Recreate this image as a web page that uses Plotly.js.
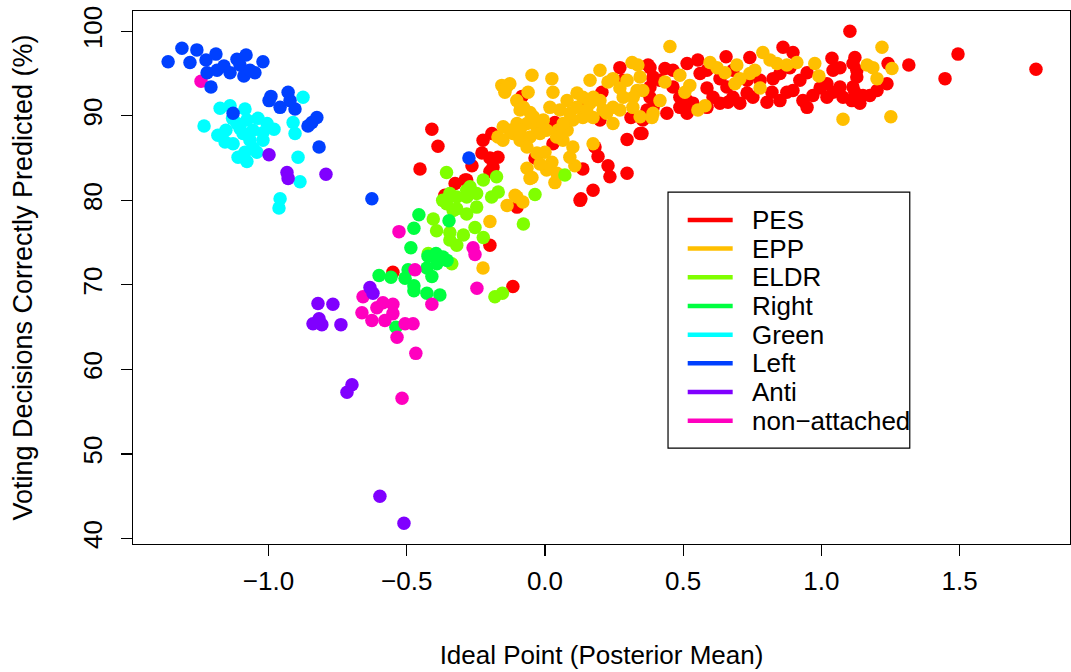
<!DOCTYPE html>
<html><head><meta charset="utf-8">
<script src="https://cdn.plot.ly/plotly-3.0.1.min.js"></script>
<style>html,body{margin:0;padding:0;background:#fff}</style>
</head><body><div id="chart" style="width:1071px;height:672px"></div>
<script>
const parties = ["PES","EPP","ELDR","Right","Green","Left","Anti","non\u2212attached"];
const colors = ["#FF0000","#FFBF00","#80FF00","#00FF40","#00FFFF","#0040FF","#8000FF","#FF00BF"];

const pesX = [-0.452,-0.409,-0.387,-0.083,-0.224,-0.192,-0.228,-0.199,-0.170,-0.188,-0.264,-0.289,-0.325,-0.362,0.029,0.036,-0.036,0.137,0.181,0.192,0.137,0.228,0.235,0.297,0.130,0.174,-0.101,0.297,0.344,0.311,0.271,0.206,0.282,0.380,0.380,0.391,0.369,0.199,-0.199,-0.116,0.127,-0.550,1.103,0.861,0.897,0.655,0.741,0.553,0.514,0.434,0.373,1.038,1.121,1.042,1.128,0.391,0.463,0.514,0.586,0.608,0.658,0.662,0.731,0.821,0.875,0.922,0.948,0.933,0.969,1.020,1.067,1.114,1.110,1.150,1.042,0.391,0.441,0.514,0.354,0.351,0.825,0.778,0.731,0.633,0.561,1.128,1.241,1.316,1.494,1.447,1.776,1.237,1.201,1.175,1.121,-0.199,-0.283,
  0.463,0.416,0.488,0.535,0.633,0.680,0.705,0.752,0.803,0.850,0.897,0.995,1.078,1.139,0.380,0.586,0.680,0.850,0.886,1.067,1.114,0.488,0.586,0.948,1.020];
const pesY = [83.7,88.4,86.4,92.3,87.1,87.9,85.6,85.0,85.1,83.9,84.1,82.4,82.0,80.6,86.7,89.2,85.0,91.0,86.3,85.2,83.7,84.1,82.8,83.2,80.2,81.2,79.2,87.2,87.9,89.8,95.7,92.8,94.2,92.2,95.7,94.4,90.7,89.5,74.7,69.8,80.0,71.5,100.0,98.1,97.5,97.0,96.9,96.6,96.2,95.6,96.0,96.8,96.9,95.4,95.4,94.6,93.4,91.8,93.3,92.2,93.4,91.6,92.7,92.8,92.8,94.2,95.1,91.8,92.4,92.2,93.4,93.4,91.8,92.4,92.8,91.0,90.3,90.3,89.5,87.9,94.4,94.2,94.2,94.4,95.0,94.6,96.2,96.0,97.3,94.4,95.5,93.8,93.0,92.4,92.8,83.4,82.4,
  95.4,94.2,92.2,91.5,91.5,92.2,91.5,92.2,91.6,91.8,93.0,93.3,92.2,91.5,93.4,95.4,95.4,95.0,95.7,95.7,96.2,91.0,91.0,91.0,93.8];

const eppX = [-0.047,0.025,-0.156,-0.127,-0.145,-0.061,0.029,-0.090,-0.054,-0.101,-0.065,-0.029,-0.116,-0.152,-0.170,-0.090,-0.054,-0.018,-0.065,-0.029,0.000,0.025,-0.065,-0.047,0.036,0.043,0.108,0.090,0.101,0.065,0.080,0.047,0.018,0.054,0.080,0.116,0.137,0.174,0.137,0.101,0.163,0.210,0.246,0.246,0.246,0.271,0.315,0.336,0.297,0.333,0.318,0.391,0.344,0.174,-0.108,-0.080,-0.137,-0.199,-0.224,-0.101,-0.054,0.452,0.788,0.991,1.078,0.839,0.694,0.741,0.759,0.622,0.524,0.488,0.553,0.579,0.387,0.354,0.416,0.687,0.705,0.778,0.875,0.911,1.165,1.219,1.186,1.255,1.201,1.251,
  -0.139,-0.102,-0.078,-0.042,-0.006,0.006,0.042,0.066,0.090,0.115,0.151,0.175,0.199,0.223,0.271,0.283,0.319,0.344,0.006,-0.018,-0.090,-0.127,-0.151,
  0.597,0.651,0.814,0.976,0.199,0.163,0.228,0.434,0.506];
const eppY = [94.8,94.4,93.6,93.8,92.8,92.8,92.8,90.7,90.4,89.1,89.1,88.6,87.9,87.1,87.5,87.1,87.5,87.9,86.3,85.6,85.7,84.5,83.8,82.7,82.1,83.2,84.1,85.1,86.3,87.1,88.3,88.3,91.0,90.7,91.8,92.7,92.2,89.8,89.8,89.5,91.5,90.7,89.1,91.0,94.4,93.3,96.3,96.0,94.2,93.0,91.0,90.3,94.6,86.7,80.6,79.8,79.4,77.5,72.0,80.4,82.6,98.2,97.5,94.7,89.6,96.2,96.0,95.0,95.4,95.7,93.6,94.8,90.7,91.2,89.8,93.0,91.8,93.8,94.4,93.3,96.0,96.3,96.0,98.1,95.7,95.6,94.4,89.9,
  93.4,91.8,91.0,89.9,89.5,88.3,87.5,89.1,90.3,91.0,90.7,92.2,91.8,90.3,90.7,92.2,92.2,89.9,83.6,84.3,88.3,88.3,88.7,
  96.3,95.1,96.6,96.2,95.4,94.2,94.0,94.0,92.8];

const eldrX = [-0.356,-0.175,-0.344,-0.319,-0.283,-0.247,-0.271,-0.223,-0.356,-0.319,-0.283,-0.247,-0.404,-0.392,-0.344,-0.344,-0.319,-0.295,-0.253,-0.223,-0.337,-0.422,-0.193,-0.169,-0.078,-0.036,0.072,-0.181,-0.154,-0.283,-0.332,-0.370];
const eldrY = [83.3,82.8,80.8,80.4,81.2,80.8,81.6,82.4,79.6,79.0,78.4,79.2,77.8,76.4,76.2,75.3,74.7,75.9,76.8,75.6,72.5,73.7,80.4,81.0,77.2,80.7,83.0,68.6,69.0,80.4,78.8,80.0];

const rightX = [-0.456,-0.474,-0.485,-0.600,-0.557,-0.506,-0.495,-0.474,-0.474,-0.427,-0.380,-0.409,-0.427,-0.391,-0.354,-0.423,-0.394,-0.347,-0.539,-0.369];
const rightY = [78.3,76.7,74.4,71.1,70.9,70.8,71.8,69.9,69.3,69.0,68.8,71.0,72.0,72.5,72.9,73.4,73.7,77.6,65.0,73.3];

const greenX = [-1.175,-1.139,-1.085,-1.233,-1.183,-1.154,-1.114,-1.078,-1.038,-1.005,-0.980,-1.056,-1.092,-1.128,-1.020,-1.056,-1.085,-1.110,-1.078,-1.042,-1.157,-0.875,-0.911,-0.904,-0.893,-0.886,-0.958,-0.962,-1.067,-1.103,-1.020,-1.130];
const greenY = [90.9,91.2,90.8,88.8,87.7,88.3,89.1,89.5,89.7,89.1,88.4,88.3,87.9,86.7,87.1,86.2,85.7,85.1,84.6,85.7,86.9,92.2,89.2,87.9,85.1,82.2,80.2,79.1,87.1,88.5,88.0,89.7];

const leftX = [-1.363,-1.313,-1.259,-1.284,-1.226,-1.190,-1.222,-1.186,-1.208,-1.161,-1.139,-1.114,-1.081,-1.089,-1.049,-1.020,-1.103,-1.067,-0.991,-0.998,-0.929,-0.958,-0.904,-0.922,-0.825,-0.857,-0.843,-0.817,-1.128,-0.626,-0.275];
const leftY = [96.4,98.0,97.8,96.3,96.6,97.3,95.1,95.4,93.4,95.9,95.1,96.7,97.2,94.7,95.1,96.4,96.0,95.4,92.3,91.8,92.8,91.0,90.8,91.8,89.8,88.8,89.2,86.3,90.3,80.2,85.0];

const antiX = [-0.998,-0.933,-0.929,-0.792,-0.633,-0.622,-0.821,-0.767,-0.817,-0.839,-0.807,-0.738,-0.698,-0.716,-0.597,-0.510];
const antiY = [85.4,83.3,82.6,83.1,69.7,69.0,67.8,67.7,66.0,65.4,65.3,65.3,58.2,57.3,45.0,41.8];

const naX = [-1.244,-0.528,-0.470,-0.260,-0.253,-0.246,-0.409,-0.658,-0.662,-0.626,-0.608,-0.586,-0.550,-0.550,-0.579,-0.506,-0.477,-0.535,-0.467,-0.517];
const naY = [94.1,76.3,71.8,74.4,73.6,69.6,67.7,68.6,66.7,65.8,67.3,67.9,67.7,66.6,65.8,65.4,65.4,63.8,61.9,56.6];

const series = {
  "PES":[pesX,pesY], "EPP":[eppX,eppY], "ELDR":[eldrX,eldrY], "Right":[rightX,rightY],
  "non\u2212attached":[naX,naY], "Green":[greenX,greenY], "Left":[leftX,leftY], "Anti":[antiX,antiY]
};
const font = "Liberation Sans, Arial, Helvetica, sans-serif";
const traces = Object.keys(series).map(name => ({
  type:"scatter", mode:"markers", name:name, showlegend:false,
  x:series[name][0], y:series[name][1],
  marker:{size:13.5, color:colors[parties.indexOf(name)], line:{width:0}},
  hoverinfo:"x+y+name"
}));

// legend (drawn as shapes + annotations in paper coordinates)
const L = {x0:0.571, x1:0.829, y0:0.180, y1:0.660, lx0:0.592, lx1:0.640, tx:0.659, top:0.608, step:0.0538};
const shapes = [{type:"rect", xref:"paper", yref:"paper", x0:L.x0, x1:L.x1, y0:L.y0, y1:L.y1,
  line:{color:"#000", width:1.2}, fillcolor:"rgba(255,255,255,0)"}];
const annotations = [];
parties.forEach((p,i) => {
  const yy = L.top - i*L.step;
  shapes.push({type:"line", xref:"paper", yref:"paper", x0:L.lx0, x1:L.lx1, y0:yy, y1:yy,
    line:{color:colors[i], width:4.5}});
  annotations.push({xref:"paper", yref:"paper", x:L.tx, y:yy, xanchor:"left", yanchor:"middle",
    text:p, showarrow:false, font:{family:font, size:26, color:"#000"}});
});

const layout = {
  width:1071, height:672, margin:{l:133, r:1, t:11, b:128},
  paper_bgcolor:"#fff", plot_bgcolor:"#fff", showlegend:false,
  font:{family:font, size:26, color:"#000"},
  xaxis:{range:[-1.49,1.899], tickvals:[-1,-0.5,0,0.5,1,1.5], tickformat:".1f",
    ticks:"outside", ticklen:11, tickwidth:1.2, tickcolor:"#000", ticklabelstandoff:3,
    showline:true, mirror:true, linecolor:"#000", linewidth:1.2,
    showgrid:false, zeroline:false, tickfont:{family:font, size:26},
    title:{text:"Ideal Point (Posterior Mean)", font:{family:font, size:26}, standoff:50}},
  yaxis:{range:[39.35,102.4], tickvals:[40,50,60,70,80,90,100], tickangle:-90,
    ticks:"outside", ticklen:11, tickwidth:1.2, tickcolor:"#000", ticklabelstandoff:8,
    showline:true, mirror:true, linecolor:"#000", linewidth:1.2,
    showgrid:false, zeroline:false, tickfont:{family:font, size:26},
    title:{text:"Voting Decisions Correctly Predicted (%)", font:{family:font, size:27}, standoff:38}},
  shapes:shapes, annotations:annotations
};
Plotly.newPlot("chart", traces, layout, {staticPlot:true});
</script></body></html>
